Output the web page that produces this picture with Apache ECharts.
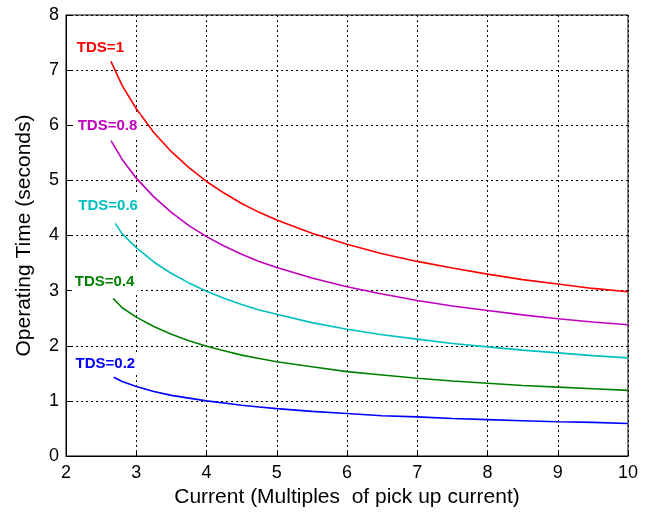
<!DOCTYPE html>
<html><head><meta charset="utf-8">
<script src="https://cdn.jsdelivr.net/npm/echarts@6/dist/echarts.min.js"></script>
<style>html,body{margin:0;padding:0;background:#fff}#c{width:651px;height:513px}</style>
</head><body><div id="c"></div>
<script>
var currents = [2.8, 3, 3.25, 3.5, 3.75, 4, 4.25, 4.5, 4.75, 5, 5.5, 6, 6.5, 7, 7.5, 8, 8.5, 9, 9.5, 10];
var seriesNames = ['TDS=1', 'TDS=0.8', 'TDS=0.6', 'TDS=0.4', 'TDS=0.2'];
var startCurrent = [2.64, 2.64, 2.70, 2.67, 2.68];
var startTime = [7.16, 5.72, 4.22, 2.86, 1.43];
var tds1  = [6.72, 6.30, 5.87, 5.52, 5.23, 4.98, 4.77, 4.58, 4.42, 4.28, 4.04, 3.84, 3.67, 3.53, 3.41, 3.30, 3.20, 3.12, 3.04, 2.98];
var tds08 = [5.38, 5.04, 4.70, 4.42, 4.18, 3.98, 3.81, 3.66, 3.53, 3.42, 3.23, 3.07, 2.94, 2.82, 2.72, 2.64, 2.56, 2.49, 2.43, 2.38];
var tds06 = [4.03, 3.78, 3.52, 3.31, 3.14, 2.99, 2.86, 2.75, 2.65, 2.57, 2.42, 2.30, 2.20, 2.12, 2.04, 1.98, 1.92, 1.87, 1.82, 1.78];
var tds04 = [2.69, 2.52, 2.35, 2.21, 2.09, 1.99, 1.91, 1.83, 1.77, 1.71, 1.62, 1.53, 1.47, 1.41, 1.36, 1.32, 1.28, 1.25, 1.22, 1.19];
var tds02 = [1.35, 1.26, 1.17, 1.10, 1.05, 1.00, 0.96, 0.92, 0.89, 0.86, 0.81, 0.77, 0.73, 0.71, 0.68, 0.66, 0.64, 0.62, 0.61, 0.59];
var xTicks = [2, 3, 4, 5, 6, 7, 8, 9, 10];
var yTicks = [0, 1, 2, 3, 4, 5, 6, 7, 8];

var allTimes = [tds1, tds08, tds06, tds04, tds02];
var colors = ['#ff0000', '#bf00bf', '#00bfbf', '#008000', '#0000ff'];
var labelAt = [[2.49, 7.40], [2.59, 5.99], [2.60, 4.54], [2.55, 3.16], [2.56, 1.68]];
var font = 'Liberation Sans, Arial, sans-serif';

var chart = echarts.init(document.getElementById('c'), null, {renderer: 'canvas'});
var series = allTimes.map(function (vals, i) {
  var d = [[startCurrent[i], startTime[i]]].concat(vals.map(function (v, j) { return [currents[j], v]; }));
  return {
    name: seriesNames[i], type: 'line', data: d, symbol: 'none', smooth: false,
    lineStyle: {color: colors[i], width: 1.6}, z: 3,
    markPoint: {
      symbol: 'circle', symbolSize: 0, silent: true,
      data: [{coord: labelAt[i], value: seriesNames[i]}],
      label: {show: true, position: 'inside', formatter: seriesNames[i], color: colors[i],
              fontFamily: font, fontSize: 15, fontWeight: 'bold',
              backgroundColor: '#fff', padding: [2, 3, 6, 3]}
    }
  };
});
var gridStyle = {show: true, lineStyle: {color: '#000', type: [2, 3], width: 1}};
chart.setOption({
  animation: false,
  backgroundColor: '#fff',
  grid: {left: 66, right: 23, top: 15, bottom: 57, show: true, borderColor: '#000', borderWidth: 1, backgroundColor: 'transparent'},
  xAxis: {
    type: 'value', min: 2, max: 10, interval: 1,
    name: 'Current (Multiples  of pick up current)', nameLocation: 'middle', nameGap: 30,
    nameTextStyle: {fontFamily: font, fontSize: 21, color: '#000'},
    axisLine: {show: true, lineStyle: {color: '#000', width: 1}},
    axisTick: {show: true, inside: true, length: 5, lineStyle: {color: '#000'}},
    axisLabel: {fontFamily: font, fontSize: 18, color: '#000', margin: 8,
      formatter: function (v) { return xTicks.indexOf(v) >= 0 ? String(v) : ''; }},
    splitLine: gridStyle
  },
  yAxis: {
    type: 'value', min: 0, max: 8, interval: 1,
    name: 'Operating Time (seconds)', nameLocation: 'middle', nameGap: 31,
    nameTextStyle: {fontFamily: font, fontSize: 21, color: '#000'},
    axisLine: {show: true, lineStyle: {color: '#000', width: 1}},
    axisTick: {show: true, inside: true, length: 5, lineStyle: {color: '#000'}},
    axisLabel: {fontFamily: font, fontSize: 18, color: '#000', margin: 7,
      formatter: function (v) { return yTicks.indexOf(v) >= 0 ? String(v) : ''; }},
    splitLine: gridStyle
  },
  series: series
});
</script></body></html>
